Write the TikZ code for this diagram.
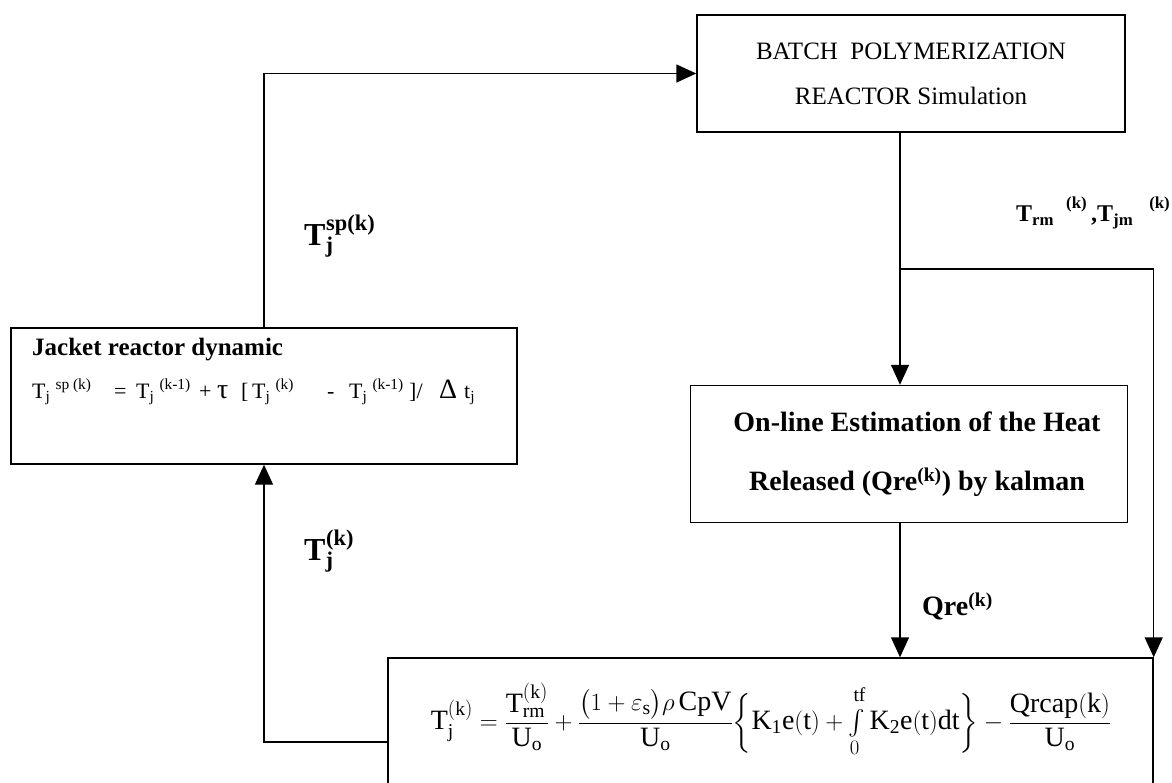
\documentclass[tikz,border=0pt]{standalone}
\usepackage{amsmath}
\usepackage{fontspec}
\setmainfont{Liberation Serif}
\usetikzlibrary{arrows.meta,positioning}
% T with subscript j and a raised index set a little to the right
\newcommand{\tj}[3][0.45em]{T\rlap{\textsubscript{j}}\hspace{#1}\raisebox{#2}{\textsuperscript{#3}}}

\begin{document}
\begin{tikzpicture}[
  x=1pt, y=-1pt,
  box/.style={draw, line width=1.4pt, inner sep=0pt},
  lbl/.style={anchor=west, inner sep=0pt, font=\bfseries\fontsize{32}{36}\selectfont},
  arrow/.style={-{Triangle[length=20pt,width=18pt]}, line width=1.4pt}
]
\useasboundingbox (0,0) rectangle (1172,782);

% blocks
\node[box, minimum width=428, minimum height=117, align=center,
      font=\fontsize{25}{45}\selectfont] (sim) at (911,73.5)
      {BATCH\ \ POLYMERIZATION\\REACTOR Simulation};
\node[box, minimum width=437, minimum height=137, align=center,
      font=\bfseries\fontsize{28}{59}\selectfont] (est) at (909,454)
      {\hspace*{16pt}On-line Estimation of the Heat\\\hspace*{16pt}Released (Qre\textsuperscript{(k)}) by kalman};
\node[box, minimum width=506, minimum height=136] (jacket) at (264,396) {};
\node[anchor=north west, align=left, inner sep=0pt, font=\fontsize{22}{43}\selectfont]
      (jtext) at (32,338)
      {\textbf{\fontsize{25}{43}\selectfont Jacket reactor dynamic}\\
       \makebox[82pt][l]{\tj{2pt}{sp (k)}}\makebox[22pt][l]{=}\makebox[63pt][l]{\tj{2pt}{(k-1)}}%
       \makebox[18pt][l]{+}\makebox[24pt][l]{\fontsize{28}{30}\selectfont τ}\makebox[11pt][l]{[}%
       \makebox[75pt][l]{\tj{2pt}{(k)}}\makebox[22pt][l]{-}\makebox[60pt][l]{\tj{2pt}{(k-1)}}%
       \makebox[30pt][l]{]/}\makebox[25pt][l]{\fontsize{28}{30}\selectfont Δ}t\textsubscript{j}};
\node[box, minimum width=765, minimum height=142] (ctrl) at (770.5,729) {};
\node[inner sep=0pt, font=\fontsize{28}{32}\selectfont] (ctrleq) at (771,720)
      {$\mathrm{T_j^{(k)}} = \dfrac{\mathrm{T_{rm}^{(k)}}}{\mathrm{U_o}}
        + \dfrac{\bigl(1+\varepsilon_{\mathrm{s}}\bigr)\rho\,\mathrm{CpV}}{\mathrm{U_o}}
        \biggl\{\mathrm{K_1e(t)} + \int\limits_0^{\mathrm{tf}\rule[-5pt]{0pt}{0pt}}\mathrm{K_2e(t)dt}\biggr\}
        - \dfrac{\mathrm{Qrcap(k)}}{\mathrm{U_o}}$};

% signal labels
\node[lbl] (spk) at (304,236) {\tj[0.02em]{6pt}{sp(k)}};
\node[lbl] (tk) at (304,551) {\tj[0.02em]{6pt}{(k)}};
\node[lbl, font=\bfseries\fontsize{24}{26}\selectfont] (trm) at (1016,213)
      {T\textsubscript{rm}\hspace{12pt}\raisebox{4pt}{\textsuperscript{(k)}}\,,T\textsubscript{jm}\hspace{16pt}\raisebox{4pt}{\textsuperscript{(k)}}};
\node[lbl, font=\bfseries\fontsize{28}{32}\selectfont] (qre) at (922,606) {Qre\textsuperscript{(k)}};

% connectors
\coordinate (split) at (900,269);
\coordinate (fb) at (388,742);
\draw[arrow] (jacket.north) |- (sim.west);
\draw[line width=1.4pt] (sim.south -| split) -- (split);
\draw[arrow] (split) -- (est.north -| split);
\draw[arrow] (split) -| (ctrl.north east);
\draw[arrow] (est.south -| split) -- (ctrl.north -| split);
\draw[arrow] (fb) -| (jacket.south);
\end{tikzpicture}
\end{document}
